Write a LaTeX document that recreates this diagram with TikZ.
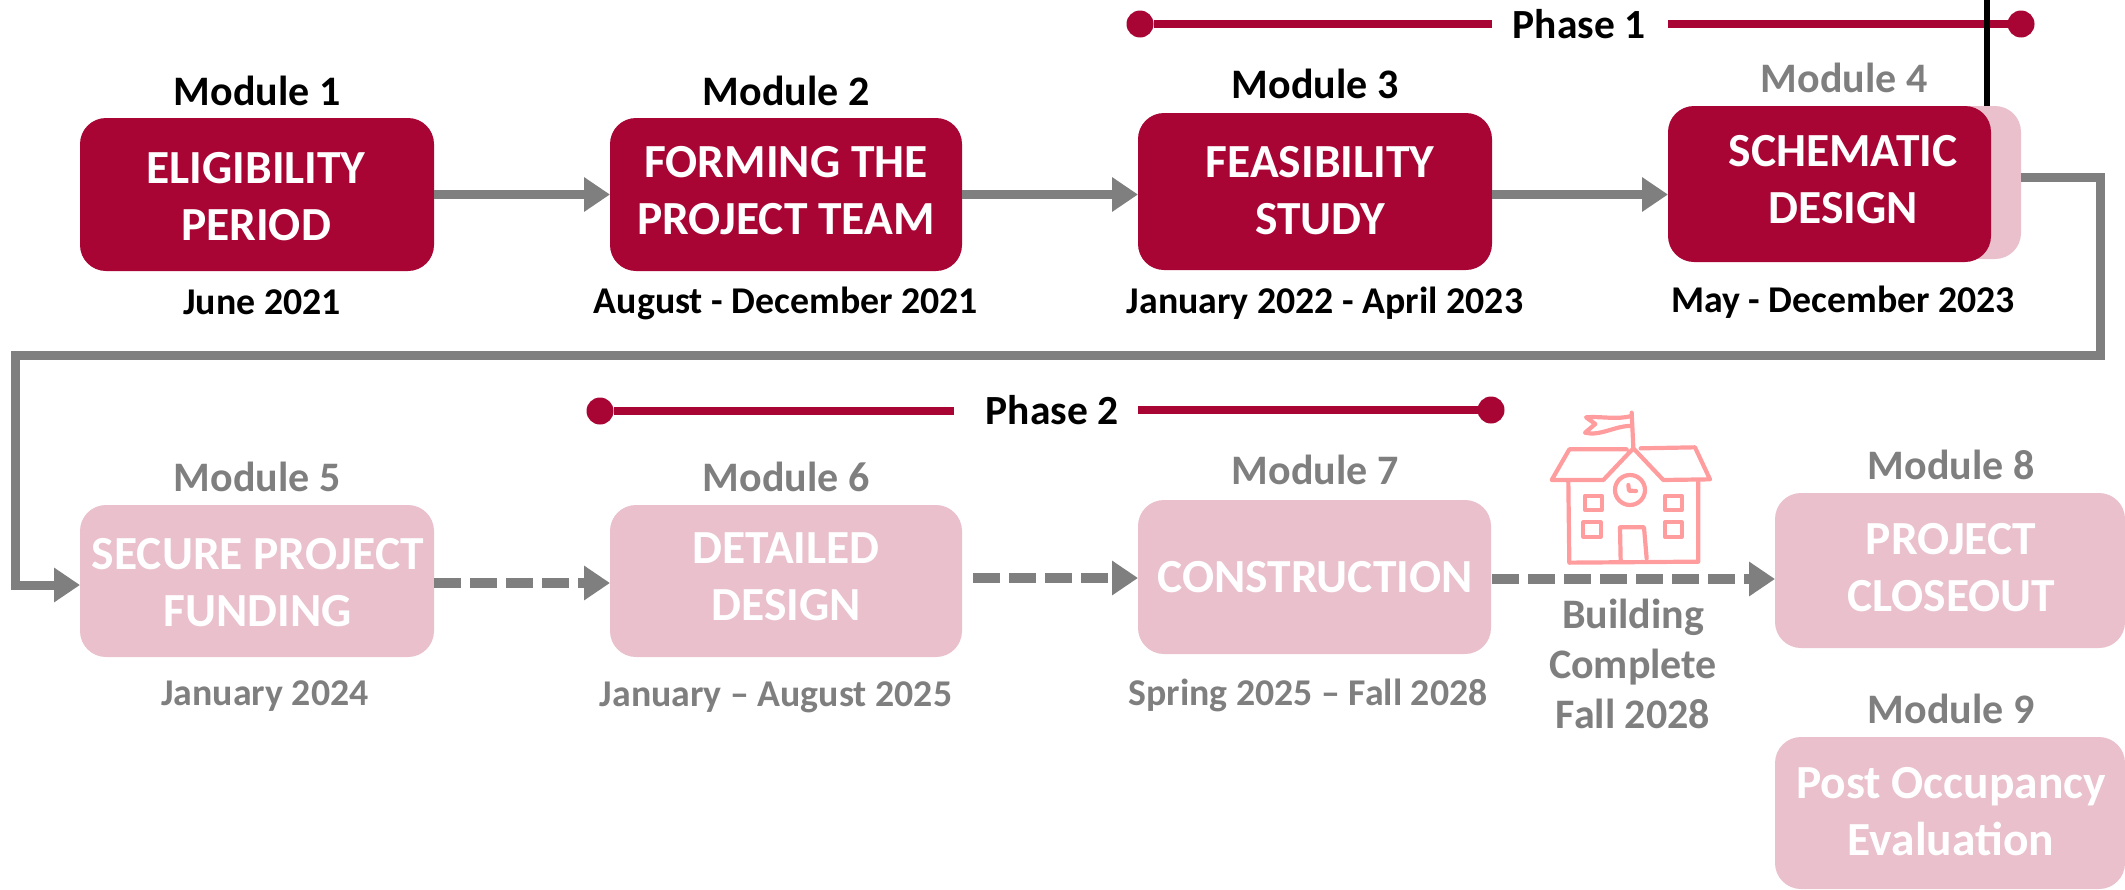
\documentclass[tikz,border=0pt]{standalone}
\usepackage{fontspec}
\setmainfont{Carlito}
\usetikzlibrary{arrows.meta}
\definecolor{crimson}{HTML}{A80535}
\definecolor{blush}{HTML}{E9C0CC}
\definecolor{slate}{HTML}{7F7F7F}
\definecolor{salmon}{HTML}{FF9C9E}
\tikzset{
  x=1pt,y=-1pt,
  boxbase/.style={rounded corners=26pt,inner sep=0pt,outer sep=0pt,draw=none},
  darkbox/.style={boxbase,fill=crimson},
  palebox/.style={boxbase,fill=blush},
  boxtext/.style={font=\bfseries\fontsize{47.5}{57}\selectfont,text=white,align=center,inner sep=0pt},
  modon/.style={font=\bfseries\fontsize{42}{50}\selectfont,text=black,inner sep=0pt},
  modoff/.style={font=\bfseries\fontsize{42}{50}\selectfont,text=slate,inner sep=0pt},
  dateon/.style={font=\bfseries\fontsize{37.8}{45}\selectfont,text=black,inner sep=0pt},
  dateoff/.style={font=\bfseries\fontsize{37.8}{45}\selectfont,text=slate,inner sep=0pt},
  flow/.style={draw=slate,line width=9pt,-{Triangle[length=26pt,width=33pt]}},
  dashflow/.style={flow,line width=10pt,dash pattern=on 27pt off 9pt},
  bar/.style={draw=crimson,line width=8pt},
  barend/.style={circle,fill=crimson,minimum size=27pt,inner sep=0pt,outer sep=0pt},
  phasetext/.style={font=\bfseries\fontsize{41.5}{50}\selectfont,text=black,inner sep=0pt},
  sketch/.style={draw=salmon,line width=4.2pt,line join=round,line cap=round},
}
\begin{document}
\begin{tikzpicture}
\useasboundingbox (0,0) rectangle (2125,889);
% boxes
\node[darkbox,minimum width=354pt,minimum height=153pt] (m1) at (257,194.5) {};
\node[darkbox,minimum width=352pt,minimum height=153pt] (m2) at (786,194.5) {};
\node[darkbox,minimum width=354pt,minimum height=157pt] (m3) at (1315,191.5) {};
\node[palebox,minimum width=120pt,minimum height=153pt] (m4b) at (1961,182.5) {};
\node[darkbox,minimum width=323pt,minimum height=156pt] (m4) at (1829.5,184) {};
\node[palebox,minimum width=354pt,minimum height=152pt] (m5) at (257,581) {};
\node[palebox,minimum width=352pt,minimum height=152pt] (m6) at (786,581) {};
\node[palebox,minimum width=353pt,minimum height=154pt] (m7) at (1314.5,577) {};
\node[palebox,minimum width=350pt,minimum height=155pt] (m8) at (1950,570.5) {};
\node[palebox,minimum width=350pt,minimum height=152pt] (m9) at (1950,813) {};
% box labels
\node[boxtext] (t1) at (256,197) {ELIGIBILITY\\PERIOD};
\node[boxtext] (t2) at (786,191) {FORMING THE\\PROJECT TEAM};
\node[boxtext] (t3) at (1320,191) {FEASIBILITY\\STUDY};
\node[boxtext] (t4) at (1843,180) {SCHEMATIC\\DESIGN};
\node[boxtext] (t5) at (258,583) {SECURE PROJECT\\FUNDING};
\node[boxtext] (t6) at (786,577) {DETAILED\\DESIGN};
\node[boxtext] (t7) at (1315,577) {CONSTRUCTION};
\node[boxtext] (t8) at (1951,568) {PROJECT\\CLOSEOUT};
\node[boxtext] (t9) at (1951,812) {Post Occupancy\\Evaluation};
% module titles
\node[modon] (h1) at (257,91) {Module 1};
\node[modon] (h2) at (786,91) {Module 2};
\node[modon] (h3) at (1315,84) {Module 3};
\node[modoff] (h4) at (1844,78) {Module 4};
\node[modoff] (h5) at (257,477) {Module 5};
\node[modoff] (h6) at (786,477) {Module 6};
\node[modoff] (h7) at (1315,470) {Module 7};
\node[modoff] (h8) at (1951,465) {Module 8};
\node[modoff] (h9) at (1951,709) {Module 9};
% dates
\node[dateon] (d1) at (262,302) {June 2021};
\node[dateon] (d2) at (786,303) {August - December 2021};
\node[dateon] (d3) at (1325,303) {January 2022 - April 2023};
\node[dateon] (d4) at (1843,302) {May - December 2023};
\node[dateoff] (d5) at (265,696) {January 2024};
\node[dateoff] (d6) at (776,697) {January -- August 2025};
\node[dateoff] (d7) at (1308,695) {Spring 2025 -- Fall 2028};
\node[modoff,align=center,font=\bfseries\fontsize{42}{50}\selectfont] (bc) at (1633,664) {Building\\Complete\\Fall 2028};
% connectors
\draw[flow] (m1.east) -- (m2.west);
\draw[flow] (m2.east) -- (m3.west |- m2.east);
\draw[flow] (m3.east |- m2.east) -- (m4.west |- m2.east);
\coordinate (c1) at (2100,177);
\coordinate (c2) at (2100,355);
\coordinate (c3) at (15,355);
\coordinate (c4) at (15,585);
\draw[flow,line join=miter] (m4b.east |- c1) -- (c1) -- (c2) -- (c3) -- (c4) -- (m5.west |- c4);
\coordinate (s5) at (434,583);
\draw[dashflow] (s5) -- (m6.west |- s5);
\coordinate (s6) at (973,578);
\draw[dashflow] (s6) -- (m7.west |- s6);
\coordinate (s7) at (1492,579);
\draw[dashflow] (s7) -- (m8.west |- s7);
% phase bars
\node[barend] (p1a) at (1140,24) {};
\node[barend] (p1b) at (2021,24) {};
\node[phasetext] (p1) at (1579,24) {Phase 1};
\coordinate (p1l) at (1492,24);
\coordinate (p1r) at (1668,24);
\draw[bar] (p1a) -- (p1l);
\draw[bar] (p1r) -- (p1b);
\node[barend] (p2a) at (600,411) {};
\node[barend] (p2b) at (1491,410) {};
\node[phasetext] (p2) at (1052,410) {Phase 2};
\coordinate (p2l) at (954,411);
\coordinate (p2r) at (1138,410);
\draw[bar] (p2a) -- (p2l);
\draw[bar] (p2r) -- (p2b);
\coordinate (blk) at (1987,0);
\draw[black,line width=6.5pt] (blk) -- (blk |- m4.north);
% school icon
\begin{scope}[sketch,shift={(1450,390)},x=0.3333pt,y=-0.3333pt]
  \draw (545,68) -- (550,172);
  \draw (545,78) .. controls (500,90) and (450,78) .. (408,82) -- (436,102) -- (405,128) .. controls (450,140) and (500,105) .. (546,108);
  \draw (530,178) -- (358,178) -- (305,270) -- (460,270) -- (550,175) -- (640,270) -- (780,268) -- (735,172) -- (572,175);
  \draw (355,275) -- (358,518) -- (745,515) -- (745,272);
  \draw (540,300) circle[radius=45];
  \draw (535,285) -- (537,302) -- (558,303);
  \draw (405,317) rectangle (455,360);
  \draw (645,318) rectangle (695,360);
  \draw (400,397) rectangle (452,440);
  \draw (645,397) rectangle (695,440);
  \draw (512,510) -- (510,412) -- (582,412) -- (590,505);
\end{scope}
\end{tikzpicture}
\end{document}
